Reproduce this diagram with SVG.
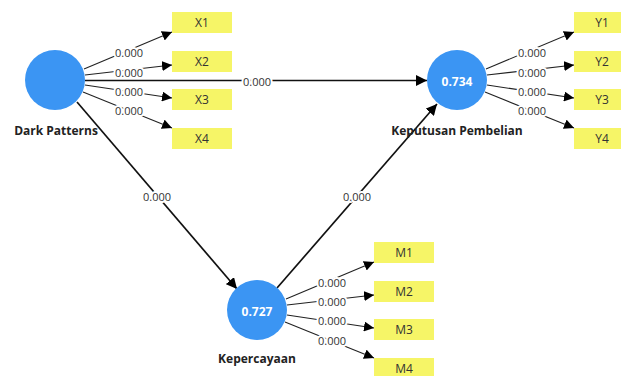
<svg xmlns="http://www.w3.org/2000/svg" width="621" height="376" viewBox="0 0 621 376">
<defs>
<marker id="ah" viewBox="0 0 10 10" refX="10" refY="5" markerWidth="10" markerHeight="10" markerUnits="userSpaceOnUse" orient="auto"><path d="M0,0 L10,5 L0,10 Z" fill="#000"/></marker>
<marker id="ahb" viewBox="0 0 10 10" refX="10" refY="5" markerWidth="11" markerHeight="11" markerUnits="userSpaceOnUse" orient="auto"><path d="M0,0 L10,5 L0,10 Z" fill="#000"/></marker>
<style>
.lv{fill:#3b95f3}
.mv{fill:#f6f567}
.ind{stroke:#222;stroke-width:1.1;fill:none;marker-end:url(#ah)}
.path{stroke:#111;stroke-width:1.7;fill:none;marker-end:url(#ahb)}
.el{font-family:"Open Sans","Noto Sans",sans-serif;font-size:11px;fill:#333;text-anchor:middle;dominant-baseline:central;stroke:#fff;stroke-width:4;paint-order:stroke}
.bl{font-family:"Open Sans","Noto Sans",sans-serif;font-size:12px;fill:#333;text-anchor:middle;dominant-baseline:central}
.nl{font-family:"Open Sans","Noto Sans",sans-serif;font-size:12px;font-weight:bold;fill:#222;text-anchor:middle;dominant-baseline:central}
.r2{font-family:"Open Sans","Noto Sans",sans-serif;font-size:12px;font-weight:bold;fill:#fff;text-anchor:middle;dominant-baseline:central}
</style>
</defs>
<rect width="621" height="376" fill="#fff"/>
<g id="connectors">
<line class="ind" x1="84" y1="69" x2="172" y2="32"/>
<line class="ind" x1="85" y1="75" x2="172" y2="65"/>
<line class="ind" x1="85" y1="85" x2="172" y2="98"/>
<line class="ind" x1="83" y1="92" x2="172" y2="128"/>
<line class="ind" x1="486" y1="69" x2="574" y2="32"/>
<line class="ind" x1="487" y1="75" x2="574" y2="65"/>
<line class="ind" x1="487" y1="85" x2="574" y2="98"/>
<line class="ind" x1="485" y1="92" x2="574" y2="128"/>
<line class="ind" x1="286" y1="299" x2="374" y2="262"/>
<line class="ind" x1="287" y1="305" x2="374" y2="295"/>
<line class="ind" x1="287" y1="315" x2="374" y2="328"/>
<line class="ind" x1="285" y1="322" x2="374" y2="358"/>
<line class="path" x1="85" y1="80.5" x2="427" y2="80.5"/>
<line class="path" x1="77" y1="102" x2="237" y2="289"/>
<line class="path" x1="277" y1="288" x2="437" y2="104"/>
<text class="el" x="129" y="52">0.000</text>
<text class="el" x="129" y="72">0.000</text>
<text class="el" x="129" y="91">0.000</text>
<text class="el" x="129" y="110">0.000</text>
<text class="el" x="532" y="52">0.000</text>
<text class="el" x="532" y="72">0.000</text>
<text class="el" x="532" y="91">0.000</text>
<text class="el" x="532" y="110">0.000</text>
<text class="el" x="332" y="282">0.000</text>
<text class="el" x="332" y="301">0.000</text>
<text class="el" x="332" y="320">0.000</text>
<text class="el" x="332" y="340">0.000</text>
<text class="el" x="257" y="81">0.000</text>
<text class="el" x="157" y="196">0.000</text>
<text class="el" x="357" y="196">0.000</text>
</g>
<g id="dark-patterns"><circle class="lv" cx="55" cy="80" r="30"/><text class="nl" x="56" y="130">Dark Patterns</text></g>
<g id="keputusan-pembelian"><circle class="lv" cx="457" cy="80" r="30"/><text class="r2" x="457" y="81">0.734</text><text class="nl" x="457" y="130">Keputusan Pembelian</text></g>
<g id="kepercayaan"><circle class="lv" cx="257" cy="310" r="30"/><text class="r2" x="257" y="311">0.727</text><text class="nl" x="257" y="358">Kepercayaan</text></g>
<g id="X1"><rect class="mv" x="172" y="12" width="60" height="21"/><text class="bl" x="202" y="22.5">X1</text></g>
<g id="X2"><rect class="mv" x="172" y="51" width="60" height="21"/><text class="bl" x="202" y="61.5">X2</text></g>
<g id="X3"><rect class="mv" x="172" y="89" width="60" height="21"/><text class="bl" x="202" y="99.5">X3</text></g>
<g id="X4"><rect class="mv" x="172" y="128" width="60" height="21"/><text class="bl" x="202" y="138.5">X4</text></g>
<g id="Y1"><rect class="mv" x="574" y="12" width="60" height="21"/><text class="bl" x="602" y="22.5">Y1</text></g>
<g id="Y2"><rect class="mv" x="574" y="51" width="60" height="21"/><text class="bl" x="602" y="61.5">Y2</text></g>
<g id="Y3"><rect class="mv" x="574" y="89" width="60" height="21"/><text class="bl" x="602" y="99.5">Y3</text></g>
<g id="Y4"><rect class="mv" x="574" y="128" width="60" height="21"/><text class="bl" x="602" y="138.5">Y4</text></g>
<g id="M1"><rect class="mv" x="374" y="242" width="60" height="21"/><text class="bl" x="404" y="252.5">M1</text></g>
<g id="M2"><rect class="mv" x="374" y="281" width="60" height="21"/><text class="bl" x="404" y="291.5">M2</text></g>
<g id="M3"><rect class="mv" x="374" y="319" width="60" height="21"/><text class="bl" x="404" y="329.5">M3</text></g>
<g id="M4"><rect class="mv" x="374" y="358" width="60" height="21"/><text class="bl" x="404" y="368.5">M4</text></g>
</svg>
